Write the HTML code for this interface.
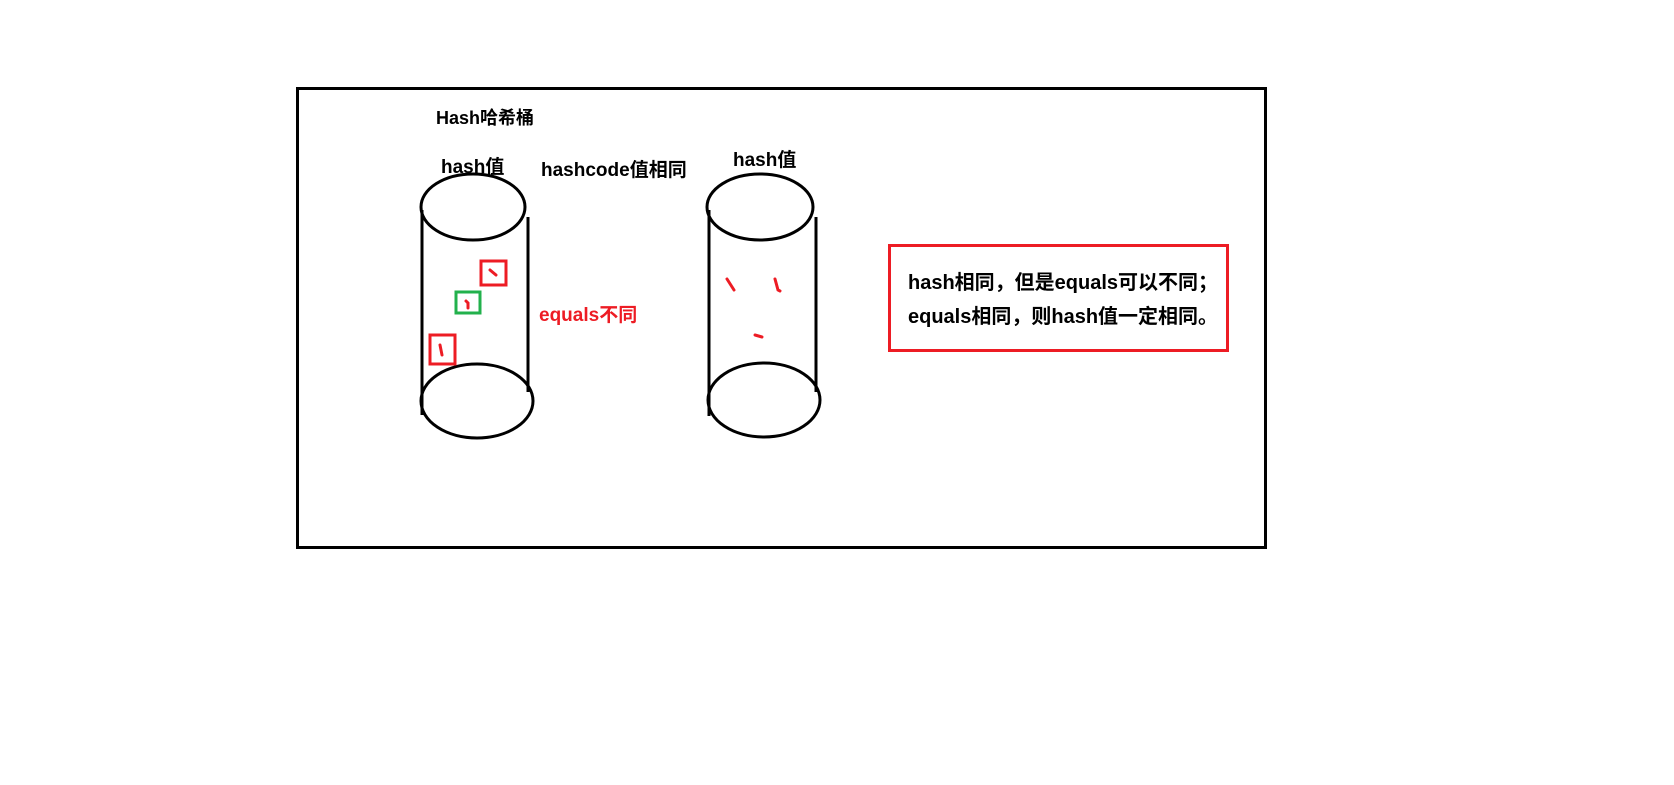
<!DOCTYPE html>
<html><head><meta charset="utf-8"><style>
html,body{margin:0;padding:0;background:#fff;width:1674px;height:785px;overflow:hidden;}
svg{display:block}
text{font-family:"Liberation Sans","Noto Sans CJK SC","WenQuanYi Zen Hei",sans-serif;font-weight:bold;}
</style></head><body>
<svg width="1674" height="785" viewBox="0 0 1674 785">
<rect x="297.5" y="88.5" width="968" height="459" fill="none" stroke="#000" stroke-width="3"/>
<text x="436" y="124" font-size="18" fill="#000">Hash哈希桶</text>
<text x="441" y="173" font-size="19" fill="#000">hash值</text>
<text x="541" y="176" font-size="19" fill="#000">hashcode值相同</text>
<text x="733" y="166" font-size="19" fill="#000">hash值</text>
<text x="539" y="321" font-size="19" fill="#ed1c24">equals不同</text>
<g fill="none" stroke="#000" stroke-width="3">
<ellipse cx="473" cy="207" rx="52" ry="33"/>
<line x1="422" y1="210" x2="422" y2="415"/>
<line x1="528" y1="217" x2="528" y2="392"/>
<ellipse cx="477" cy="401" rx="56" ry="37"/>
<ellipse cx="760" cy="207" rx="53" ry="33"/>
<line x1="709" y1="210" x2="709" y2="416"/>
<line x1="816" y1="217" x2="816" y2="392"/>
<ellipse cx="764" cy="400" rx="56" ry="37"/>
</g>
<g fill="none" stroke-width="3">
<rect x="481" y="261" width="25" height="24" stroke="#ed1c24"/>
<rect x="456" y="292" width="24" height="21" stroke="#22b14c"/>
<rect x="430" y="335" width="25" height="29" stroke="#ed1c24"/>
</g>
<g fill="none" stroke="#ed1c24" stroke-width="3" stroke-linecap="round">
<path d="M490 270 L496 275"/>
<path d="M466 301 L468 303 L468 308"/>
<path d="M440 345 L442 355"/>
<path d="M727 279 L734 290"/>
<path d="M775 279 L778 290 L780 291"/>
<path d="M755 335 L762 337"/>
</g>
<rect x="889.5" y="245.5" width="338" height="105" fill="none" stroke="#ed1c24" stroke-width="3"/>
<text x="908" y="289" font-size="20" fill="#000">hash相同，但是equals可以不同；</text>
<text x="908" y="323" font-size="20" fill="#000">equals相同，则hash值一定相同。</text>
</svg>
</body></html>
